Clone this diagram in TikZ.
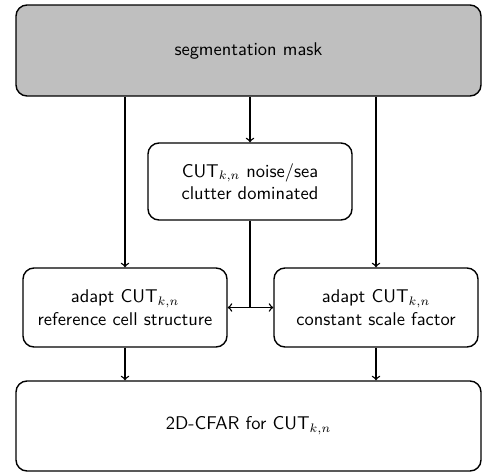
\documentclass[tikz,border=0pt]{standalone}
\usepackage{amsmath}
\usepackage{tikz}
\usetikzlibrary{shapes,calc}
\tikzset{
  blk/.style={draw, line width=0.8pt, rounded corners=0.22cm, align=center, font=\sffamily\fontsize{10.5}{12.8}\selectfont, inner sep=2pt},
  conn/.style={line width=0.8pt}
}

\begin{document}
\begin{tikzpicture}
\useasboundingbox (0,0) rectangle (9.64,-9.46);
\node[blk, fill=lightgray, minimum width=9.3cm, minimum height=1.82cm] (mask) at (4.97,-1.01) {segmentation mask};
\node[blk, minimum width=4.08cm, minimum height=1.54cm] (noise) at (5.0,-3.63) {CUT$_{k,n}$ noise/sea\\clutter dominated};
\node[blk, minimum width=4.08cm, minimum height=1.58cm] (refcell) at (2.5,-6.15) {adapt CUT$_{k,n}$\\reference cell structure};
\node[blk, minimum width=4.08cm, minimum height=1.58cm] (scale) at (7.52,-6.15) {adapt CUT$_{k,n}$\\constant scale factor};
\node[blk, minimum width=9.3cm, minimum height=1.8cm] (cfar) at (4.97,-8.52) {2D-CFAR for CUT$_{k,n}$};
\coordinate (join) at (noise.south |- refcell.east);
\draw[conn,->] (refcell.north |- mask.south) -- (refcell.north);
\draw[conn,->] (noise.north |- mask.south) -- (noise.north);
\draw[conn,->] (scale.north |- mask.south) -- (scale.north);
\draw[conn] (noise.south) -- (join);
\draw[conn,->] (join) -- (refcell.east);
\draw[conn,->] (join) -- (scale.west);
\draw[conn,->] (refcell.south) -- (refcell.south |- cfar.north);
\draw[conn,->] (scale.south) -- (scale.south |- cfar.north);
\end{tikzpicture}
\end{document}
